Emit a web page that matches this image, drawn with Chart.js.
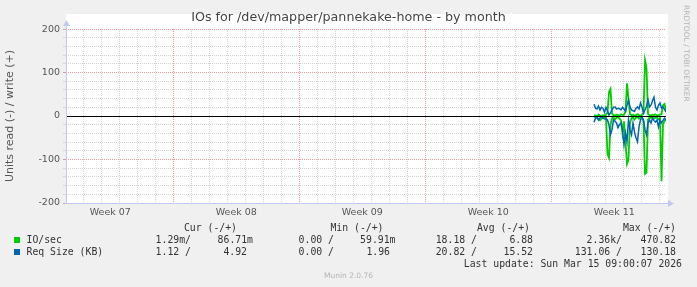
<!DOCTYPE html>
<html><head><meta charset="utf-8">
<script src="https://cdn.jsdelivr.net/npm/chart.js@4/dist/chart.umd.min.js"></script>
<style>
html,body{margin:0;padding:0;background:#f0f0f0;}
#wrap{position:relative;width:697px;height:287px;overflow:hidden;background:#f0f0f0;}
canvas{position:absolute;left:0;top:0;}
.m{position:absolute;font-family:"DejaVu Sans Mono",monospace;font-size:9.8px;color:#333;white-space:pre;line-height:12px;height:12px;}
.r{text-align:right;}
.sq{position:absolute;width:6px;height:6px;}
.small{position:absolute;font-family:"DejaVu Sans",sans-serif;font-size:7.5px;color:#b4b4b4;white-space:pre;}
</style></head>
<body>
<div id="wrap">
<canvas id="c" width="697" height="287"></canvas>
<div id="legend"></div>
<div class="small" style="left:682px;top:5px;writing-mode:vertical-rl;">RRDTOOL / TOBI OETIKER</div>
<div class="small" style="left:0;width:697px;text-align:center;top:271px;">Munin 2.0.76</div>
</div>
<script>
// ---- data (x = days since Mon 2026-02-09 00:00, 2-hour samples from Wed 11 Mar 09:00) ----
const sampleStart = 30.375;
const sampleStep = 1 / 12;
const ioWrite = [2,1,0,3,1,0,2,1,3, 8,55,62,6, 2,1,3,2,1,4,2,3, 10,75,40,4, 2,3,1,2,4,2,1,3, 6,128,110,5, 2,1,3,2,4,1,2,3, 4,25,28,12];
const ioRead = [-3,-1,-4,-8,-10,-6,-2,-5,-3, -88,-96,-20,-5, -3,-8,-4,-2,-6,-10,-40,-12, -60,-110,-100,-15, -5,-3,-8,-4,-2,-6,-3,-5, -12,-133,-130,-8, -3,-5,-2,-6,-4,-3,-8,-5, -150,-18,-12,-6];
const reqWrite = [27,18,16,23,14,20,18,9,20,12, 2,8,14,20,21,16,18,17,14,20, 16,11,25,37,21,14,12,11,18,21, 16,30,21,7,14,22,37,21,25,35, 43,20,14,25,30,18,21,15,9];
const reqRead = [-14,-5,-2,-9,-4,-2,-5,-7,-6,-9, -21,-43,-32,-9,-12,-16,-27,-20,-16,-32, -66,-39,-59,-9,-32,-43,-16,-37,-50,-59, -25,-9,-2,-9,-32,-43,-16,-9,-16,-5, -10,-14,-9,-25,-9,-16,-10,-5,-9];

const xMin = 1.04, xMax = 34.375;
const weekLabels = ['Week 07','Week 08','Week 09','Week 10','Week 11'];
const weekLabelPos = [3.5, 10.5, 17.5, 24.5, 31.5];
const yTicksMajor = [-200,-100,0,100,200];

const legendHeader = ['Cur (-/+)','Min (-/+)','Avg (-/+)','Max (-/+)'];
const legendRows = [
  {name:'IO/sec', color:'#00cc00', vals:['1.29m/','86.71m','0.00 /','59.91m','18.18 /','6.88','2.36k/','470.82']},
  {name:'Req Size (KB)', color:'#0066b3', vals:['1.12 /','4.92','0.00 /','1.96','20.82 /','15.52','131.06 /','130.18']}
];
const lastUpdate = 'Last update: Sun Mar 15 09:00:07 2026';

// ---- legend (HTML text) ----
(function(){
  const L = document.getElementById('legend');
  const headerRight = [237, 383.5, 530, 676];
  const valRight = [[191,253,334,395.5,477,533,622,676],[191,247,334,390,477,533,622,676]];
  function add(txt, right, top){
    const d = document.createElement('div');
    d.className = 'm r';
    d.style.right = (697 - right) + 'px';
    d.style.top = top + 'px';
    d.textContent = txt;
    L.appendChild(d);
  }
  legendHeader.forEach((h,i)=>add(h, headerRight[i], 222));
  legendRows.forEach((row,ri)=>{
    const cy = 240 + ri*12;
    const sq = document.createElement('div');
    sq.className='sq'; sq.style.left='14px'; sq.style.top=(cy-3)+'px'; sq.style.background=row.color;
    L.appendChild(sq);
    const n = document.createElement('div');
    n.className='m'; n.style.left='26.5px'; n.style.top=(cy-6)+'px'; n.textContent=row.name;
    L.appendChild(n);
    row.vals.forEach((v,i)=>add(v, valRight[ri][i], cy-6));
  });
  add(lastUpdate, 682, 258);
})();

function pts(vals){ return vals.map((v,i)=>({x: sampleStart + i*sampleStep, y: v})); }

const MINOR = 'rgb(212,212,212)';
const MAJOR = 'rgba(235,120,120,0.75)';
const AXIS = '#c4c8f4';

const bgPlugin = {
  id:'bg',
  beforeDraw(chart){
    const c = chart.ctx, a = chart.chartArea;
    c.save(); c.fillStyle = '#ffffff';
    c.fillRect(a.left, 14, a.right - a.left + 2, a.bottom - 14);
    c.restore();
  },
  afterDatasetsDraw(chart){
    const c = chart.ctx, a = chart.chartArea, ys = chart.scales.y;
    const y0 = Math.round(ys.getPixelForValue(0)) + 0.5;
    c.save();
    c.strokeStyle = '#000'; c.lineWidth = 1;
    c.beginPath(); c.moveTo(a.left, y0); c.lineTo(a.right, y0); c.stroke();
    c.strokeStyle = AXIS; c.fillStyle = AXIS;
    const xl = a.left + 0.5, yb = a.bottom + 0.5;
    c.beginPath(); c.moveTo(xl, a.bottom + 1); c.lineTo(xl, 25); c.stroke();
    c.beginPath(); c.moveTo(a.left - 1, yb); c.lineTo(a.right + 2, yb); c.stroke();
    c.beginPath(); c.moveTo(xl - 3.5, 26); c.lineTo(xl + 3.5, 26); c.lineTo(xl, 20); c.closePath(); c.fill();
    c.beginPath(); c.moveTo(a.right + 2, yb - 3.5); c.lineTo(a.right + 2, yb + 3.5); c.lineTo(a.right + 8, yb); c.closePath(); c.fill();
    c.restore();
  }
};

new Chart(document.getElementById('c'), {
  type:'line',
  data:{datasets:[
    {label:'IO/sec read', data:pts(ioRead), borderColor:'#00cc00', borderWidth:1.8, order:2},
    {label:'IO/sec write', data:pts(ioWrite), borderColor:'#00cc00', borderWidth:1.8, order:2},
    {label:'Req Size read', data:pts(reqRead), borderColor:'#0066b3', borderWidth:1.5, order:1},
    {label:'Req Size write', data:pts(reqWrite), borderColor:'#0066b3', borderWidth:1.5, order:1}
  ]},
  options:{
    responsive:false, animation:false, devicePixelRatio:1,
    layout:{padding:0},
    elements:{point:{radius:0}, line:{tension:0, fill:false}},
    plugins:{
      legend:{display:false}, tooltip:{enabled:false},
      title:{display:true, text:'IOs for /dev/mapper/pannekake-home - by month',
        color:'#444', font:{family:'DejaVu Sans', size:12.7, weight:'normal'}, padding:{top:10.5, bottom:3.3}}
    },
    scales:{
      x:{type:'linear', min:xMin, max:xMax,
        afterBuildTicks(s){
          const t = [];
          for (let d = Math.ceil(xMin); d <= Math.floor(xMax); d++) t.push({value:d});
          weekLabelPos.forEach(v=>t.push({value:v}));
          t.sort((a,b)=>a.value-b.value);
          s.ticks = t;
        },
        afterFit(s){ s.height = 84; },
        ticks:{autoSkip:false, maxRotation:0, padding:4, color:'#555',
          font:{family:'DejaVu Sans', size:9.5},
          callback(v){ const i = weekLabelPos.indexOf(v); return i >= 0 ? weekLabels[i] : ''; }},
        grid:{drawTicks:false, lineWidth:1,
          color(ctx){ const v = ctx.tick ? ctx.tick.value : null;
            if (v === null || weekLabelPos.indexOf(v) >= 0) return 'rgba(0,0,0,0)';
            return (v % 7 === 0) ? MAJOR : MINOR; }},
        border:{display:false, dash:[1,1]}
      },
      y:{type:'linear', position:'left', min:-200, max:200,
        afterBuildTicks(s){
          const t = [];
          for (let v = -200; v <= 200; v += 20) t.push({value:v});
          s.ticks = t;
        },
        afterFit(s){ s.width = 66; },
        ticks:{autoSkip:false, padding:3, color:'#555', font:{family:'DejaVu Sans', size:9.5},
          callback(v){ return yTicksMajor.indexOf(v) >= 0 ? String(v) : ''; }},
        grid:{drawTicks:true, tickLength:3, lineWidth:1,
          color(ctx){ const v = ctx.tick ? ctx.tick.value : null;
            if (v === 0) return 'rgba(0,0,0,0)';
            return (yTicksMajor.indexOf(v) >= 0) ? MAJOR : MINOR; }},
        border:{display:false, dash:[1,1]},
        title:{display:true, text:'Units read (-) / write (+)', color:'#555',
          font:{family:'DejaVu Sans', size:11}, padding:{top:4, bottom:0}}
      },
      yr:{type:'linear', position:'right', display:true,
        afterFit(s){ s.width = 31; },
        ticks:{display:false}, grid:{display:false, drawOnChartArea:false}, border:{display:false}}
    }
  },
  plugins:[bgPlugin]
});
</script>
</body></html>
